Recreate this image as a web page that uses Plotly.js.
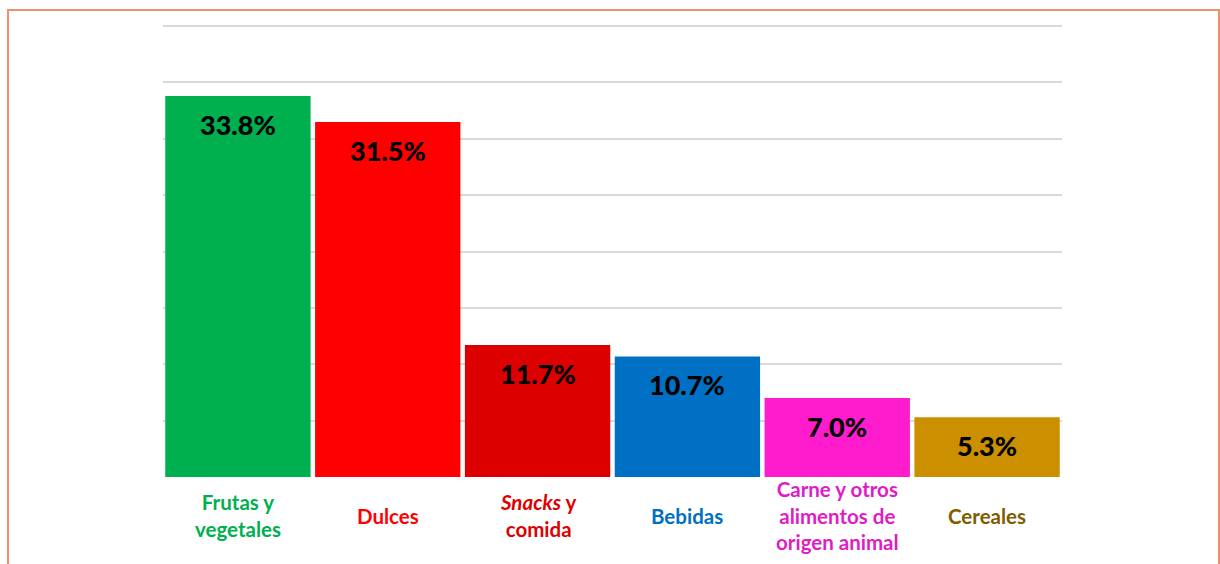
<!DOCTYPE html>
<html>
<head>
<meta charset="utf-8">
<script src="https://cdn.plot.ly/plotly-3.0.1.min.js"></script>
<style>
  html, body { margin: 0; padding: 0; background: #fff; overflow: hidden; }
  #chart { width: 1220px; height: 564px; position: absolute; left: 0; top: 0; }
  #frame { position: absolute; left: 7px; top: 9px; width: 1209px; height: 620px;
           border: 2px solid #ef8f6c; pointer-events: none; }
</style>
</head>
<body>
<div id="chart"></div>
<div id="frame"></div>
<script>
const categories = ["Frutas y vegetales", "Dulces", "Snacks y comida", "Bebidas",
                    "Carne y otros alimentos de origen animal", "Cereales"];
const tickLabels = ["Frutas y<br>vegetales", "Dulces", "<i>Snacks</i> y<br>comida", "Bebidas",
                    "Carne y otros<br>alimentos de<br>origen animal", "Cereales"];
const values = [33.8, 31.5, 11.7, 10.7, 7.0, 5.3];
const valueLabels = ["33.8%", "31.5%", "11.7%", "10.7%", "7.0%", "5.3%"];
const barColors = ["#00b04f", "#ff0000", "#dc0000", "#0070c4", "#ff1ccc", "#cc8f00"];
const labelColors = ["#00b04f", "#ff0000", "#e00000", "#0070c0", "#e01cc4", "#7f5c00"];

const trace = {
  type: "bar",
  x: categories,
  y: values,
  marker: { color: barColors, line: { width: 0 } },
  hoverinfo: "none"
};

const valueAnnotations = categories.map((c, i) => ({
  x: c, y: values[i], xref: "x", yref: "y",
  text: valueLabels[i], showarrow: false,
  yanchor: "top", yshift: -10,
  font: { family: "Lato, 'Open Sans', sans-serif", size: 27, color: "#000", weight: 900 }
}));

const labelAnnotations = categories.map((c, i) => ({
  x: c, y: -0.086, xref: "x", yref: "paper",
  text: tickLabels[i], showarrow: false,
  yanchor: "middle", align: "center",
  font: { family: "Lato, 'Open Sans', sans-serif", size: 20.5, color: labelColors[i], weight: 700 }
}));

const layout = {
  width: 1220, height: 564,
  margin: { l: 163, r: 158, t: 25, b: 87 },
  paper_bgcolor: "#ffffff",
  plot_bgcolor: "#ffffff",
  bargap: 0.03,
  showlegend: false,
  xaxis: {
    type: "category",
    showticklabels: false,
    ticks: "",
    showline: false,
    showgrid: false
  },
  yaxis: {
    range: [0, 40.1],
    tickvals: [5, 10, 15, 20, 25, 30, 35, 40],
    showticklabels: false,
    ticks: "",
    showgrid: true,
    gridcolor: "#d9d9d9",
    gridwidth: 2,
    zeroline: false,
    showline: false
  },
  annotations: valueAnnotations.concat(labelAnnotations)
};

Plotly.newPlot("chart", [trace], layout, { displayModeBar: false, staticPlot: true });
</script>
</body>
</html>
